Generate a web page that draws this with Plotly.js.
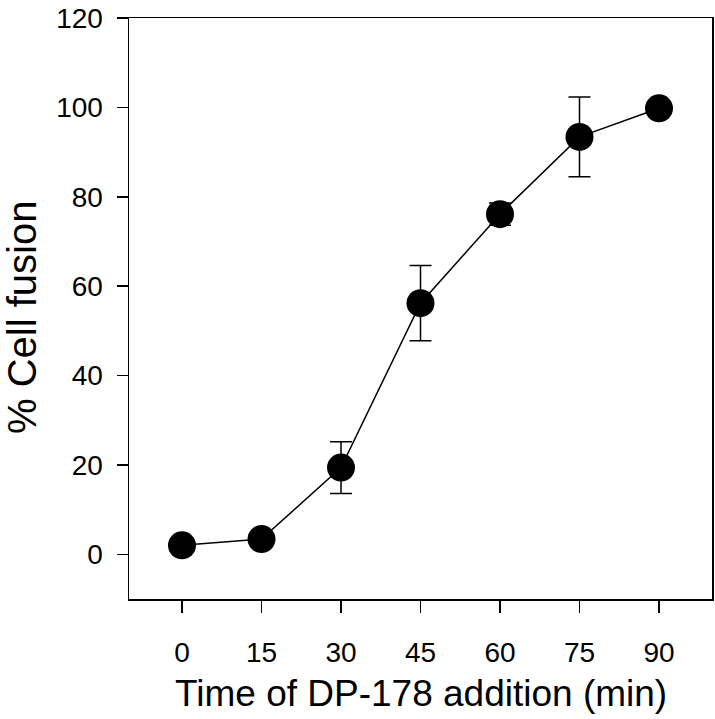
<!DOCTYPE html>
<html>
<head>
<meta charset="utf-8">
<script src="https://cdn.plot.ly/plotly-3.0.1.min.js"></script>
<style>html,body{margin:0;padding:0;background:#fff;}#chart{width:715px;height:719px;}</style>
</head>
<body>
<div id="chart"></div>
<script>
// Data
const timeMin = [0, 15, 30, 45, 60, 75, 90];
const cellFusion = [2.0, 3.4, 19.4, 56.2, 76.1, 93.4, 99.8];
const fusionErr = [1.5, 1.0, 5.8, 8.4, 2.5, 8.9, 1.0];
const xTicks = [0, 15, 30, 45, 60, 75, 90];
const yTicks = [0, 20, 40, 60, 80, 100, 120];

const trace = {
  x: timeMin,
  y: cellFusion,
  type: 'scatter',
  mode: 'lines+markers',
  line: {color: '#000', width: 1.5},
  marker: {color: '#000', size: 28, symbol: 'circle'},
  error_y: {type: 'data', array: fusionErr, visible: true, color: '#000', thickness: 1.5, width: 11},
  cliponaxis: false,
  showlegend: false
};

const fontFam = 'Liberation Sans, Arial, sans-serif';
const layout = {
  width: 715, height: 719,
  margin: {l: 129, r: 3, t: 18, b: 120},
  paper_bgcolor: '#fff', plot_bgcolor: '#fff',
  font: {family: fontFam, color: '#000'},
  xaxis: {
    range: [-10, 100], tickvals: xTicks, ticktext: xTicks.map(String),
    showgrid: false, zeroline: false, showline: true, mirror: true,
    linecolor: '#000', linewidth: 1.5,
    ticks: 'outside', ticklen: 12, tickwidth: 1.5, tickcolor: '#000',
    tickfont: {size: 28, family: fontFam, color: '#000'},
    ticklabelstandoff: 16
  },
  yaxis: {
    range: [-10, 120], tickvals: yTicks, ticktext: yTicks.map(String),
    showgrid: false, zeroline: false, showline: true, mirror: true,
    linecolor: '#000', linewidth: 1.5,
    ticks: 'outside', ticklen: 11, tickwidth: 1.5, tickcolor: '#000',
    tickfont: {size: 28, family: fontFam, color: '#000'},
    ticklabelstandoff: 8
  },
  annotations: [
    {text: '% Cell fusion', xref: 'paper', yref: 'paper', x: -0.184, y: 0.485,
     xanchor: 'center', yanchor: 'middle', textangle: -90, showarrow: false,
     font: {size: 40, family: fontFam, color: '#000'}},
    {text: 'Time of DP-178 addition (min)', xref: 'paper', yref: 'paper', x: 0.5, y: -0.162,
     xanchor: 'center', yanchor: 'middle', showarrow: false,
     font: {size: 37, family: fontFam, color: '#000'}}
  ]
};

Plotly.newPlot('chart', [trace], layout, {staticPlot: true, displayModeBar: false});
</script>
</body>
</html>
